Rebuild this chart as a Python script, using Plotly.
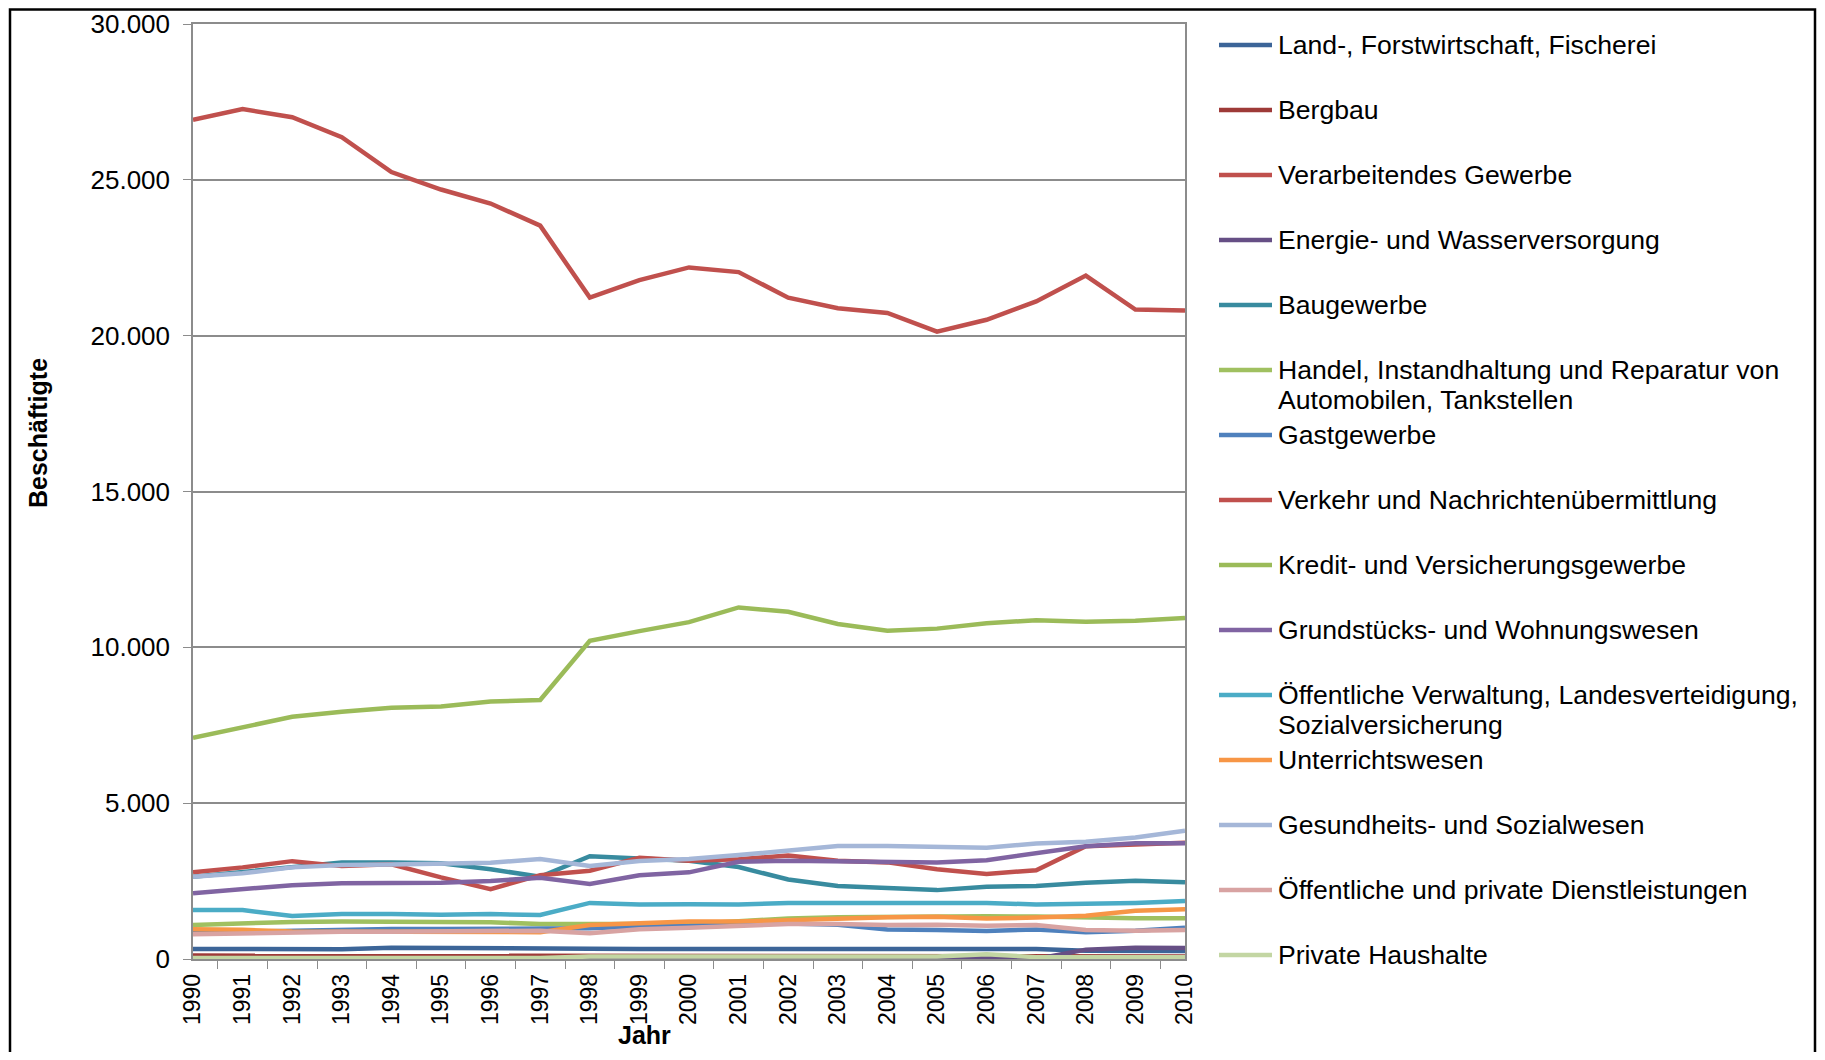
import plotly.graph_objects as go

# Beschäftigte nach Wirtschaftszweigen, 1990-2010
years = [str(y) for y in range(1990, 2011)]

land_forst = [320, 320, 315, 315, 360, 360, 340, 340, 330, 320, 320, 340, 310, 310, 310, 310, 310, 320, 265, 255, 255]
bergbau = [110, 110, 105, 105, 100, 100, 100, 100, 95, 95, 95, 95, 90, 90, 90, 90, 90, 90, 85, 80, 80]
verarbeitend = [26930, 27270, 27010, 26370, 25250, 24690, 24240, 23530, 21220, 21780, 22190,
                22040, 21220, 20880, 20730, 20130, 20510, 21100, 21930, 20840, 20810]
energie = [20, 20, 20, 20, 20, 20, 20, 20, 0, 0, 0, 0, 0, 0, 0, 0, 40, 0, 300, 360, 350]
baugewerbe = [2640, 2800, 2950, 3100, 3100, 3070, 2880, 2640, 3300, 3230, 3150,
              2950, 2550, 2340, 2270, 2210, 2320, 2340, 2450, 2510, 2460]
handel = [1090, 1140, 1190, 1200, 1200, 1180, 1180, 1120, 1110, 1120, 1120,
          1210, 1300, 1336, 1358, 1379, 1370, 1360, 1326, 1304, 1304]
gastgewerbe = [845, 877, 930, 960, 960, 965, 965, 980, 985, 1040, 1060,
               1144, 1140, 1100, 950, 930, 900, 950, 860, 910, 1000]
verkehr = [2780, 2940, 3140, 2980, 3040, 2620, 2240, 2690, 2830, 3250, 3150,
           3200, 3320, 3150, 3100, 2880, 2730, 2850, 3620, 3680, 3730]
kredit = [7100, 7450, 7770, 7930, 8060, 8100, 8260, 8310, 10210, 10520, 10810,
          11280, 11140, 10750, 10530, 10600, 10770, 10870, 10820, 10850, 10940]
grundstuecke = [2110, 2230, 2370, 2430, 2430, 2450, 2500, 2610, 2410, 2690, 2780,
                3120, 3150, 3140, 3100, 3100, 3170, 3390, 3620, 3710, 3710]
oeff_verwaltung = [1570, 1570, 1380, 1440, 1440, 1420, 1440, 1410, 1800, 1750, 1760,
                   1750, 1800, 1807, 1817, 1807, 1800, 1750, 1770, 1800, 1860]
unterricht = [955, 940, 880, 880, 880, 880, 880, 860, 1090, 1145, 1200,
              1200, 1250, 1290, 1340, 1358, 1300, 1330, 1390, 1545, 1593]
gesundheit = [2640, 2750, 2940, 3015, 3036, 3068, 3090, 3207, 2983, 3143, 3207,
              3335, 3474, 3624, 3624, 3603, 3570, 3709, 3763, 3902, 4116]
oeff_privat = [791, 823, 877, 877, 877, 877, 877, 909, 823, 951, 1005,
               1060, 1122, 1122, 1090, 1100, 1070, 1090, 930, 909, 930]
haushalte = [30, 30, 30, 30, 30, 30, 30, 30, 80, 80, 80, 80, 80, 80, 80, 80, 150, 60, 60, 60, 60]

series = [
    ("Land-, Forstwirtschaft, Fischerei", land_forst, "#3C6598"),
    ("Bergbau", bergbau, "#9E3A38"),
    ("Verarbeitendes Gewerbe", verarbeitend, "#C0504D"),
    ("Energie- und Wasserversorgung", energie, "#664F85"),
    ("Baugewerbe", baugewerbe, "#388B9F"),
    ("Handel, Instandhaltung und Reparatur von\nAutomobilen, Tankstellen", handel, "#A0C060"),
    ("Gastgewerbe", gastgewerbe, "#4F81BD"),
    ("Verkehr und Nachrichtenübermittlung", verkehr, "#C0504D"),
    ("Kredit- und Versicherungsgewerbe", kredit, "#9BBB59"),
    ("Grundstücks- und Wohnungswesen", grundstuecke, "#8064A2"),
    ("Öffentliche Verwaltung, Landesverteidigung,\nSozialversicherung", oeff_verwaltung, "#4BACC6"),
    ("Unterrichtswesen", unterricht, "#F79646"),
    ("Gesundheits- und Sozialwesen", gesundheit, "#A5B7D8"),
    ("Öffentliche und private Dienstleistungen", oeff_privat, "#D8A3A2"),
    ("Private Haushalte", haushalte, "#C3D6A3"),
]

# page body adds an 8px margin around the figure; keep the page from overflowing
OFF = 8
W, H = 1825 - 2 * OFF, 1060 - 2 * OFF
L, T = 193 - OFF, 24 - OFF
R, B = W - (1185 - OFF), H - (959 - OFF)
plot_w, plot_h = W - L - R, H - T - B


def px_x(px):
    # screen pixel -> paper coordinate
    return (px - OFF - L) / plot_w


def px_y(py):
    return (H - B - (py - OFF)) / plot_h


fig = go.Figure()

for name, values, color in series:
    fig.add_trace(
        go.Scatter(
            x=years,
            y=values,
            mode="lines",
            name=name.replace("\n", " "),
            line=dict(color=color, width=4.5),
            showlegend=False,
        )
    )

font = "Liberation Sans, Arial, sans-serif"
shapes = []
annotations = []

# Legend built by hand so items keep the even spacing of the original
for i, (name, values, color) in enumerate(series):
    yc = 45 + 65.0 * i
    shapes.append(
        dict(type="line", xref="paper", yref="paper",
             x0=px_x(1219), x1=px_x(1272), y0=px_y(yc), y1=px_y(yc),
             line=dict(color=color, width=4.5))
    )
    for k, part in enumerate(name.split("\n")):
        annotations.append(
            dict(text=part, xref="paper", yref="paper", x=px_x(1276), y=px_y(yc + 30 * k),
                 xanchor="left", yanchor="middle", showarrow=False,
                 font=dict(size=26.6, color="black", family=font))
        )

# Axis titles
annotations.append(
    dict(text="<b>Beschäftigte</b>", xref="paper", yref="paper", x=px_x(38), y=px_y(433),
         textangle=-90, showarrow=False, xanchor="center", yanchor="middle",
         font=dict(size=25, color="black", family=font))
)
annotations.append(
    dict(text="<b>Jahr</b>", xref="paper", yref="paper", x=px_x(644), y=px_y(1035),
         showarrow=False, xanchor="center", yanchor="middle",
         font=dict(size=25, color="black", family=font))
)

# Outer frame of the chart (kept just inside the figure edges)
shapes.append(
    dict(type="rect", xref="paper", yref="paper",
         x0=px_x(10), x1=px_x(1815), y0=px_y(9.5), y1=px_y(1090),
         line=dict(color="black", width=2.5), fillcolor="rgba(0,0,0,0)")
)

fig.update_layout(
    width=W,
    height=H,
    margin=dict(l=L, r=R, t=T, b=B, autoexpand=False),
    paper_bgcolor="white",
    plot_bgcolor="white",
    separators=",.",
    font=dict(family=font, size=26, color="black"),
    showlegend=False,
    xaxis=dict(
        type="category",
        automargin=False,
        tickangle=-90,
        tickson="boundaries",
        ticks="outside",
        ticklen=8,
        tickcolor="#8C8C8C",
        showline=True,
        linecolor="#8C8C8C",
        linewidth=1.5,
        mirror=True,
        showgrid=False,
        ticklabelstandoff=4,
        tickfont=dict(size=23, color="black"),
    ),
    yaxis=dict(
        range=[0, 30000],
        dtick=5000,
        tickformat=",",
        automargin=False,
        ticks="outside",
        ticklen=8,
        tickcolor="#8C8C8C",
        showline=True,
        linecolor="#8C8C8C",
        linewidth=1.5,
        mirror=True,
        showgrid=True,
        gridcolor="#8C8C8C",
        gridwidth=1.5,
        zeroline=False,
        ticklabelstandoff=8,
        tickfont=dict(size=26, color="black"),
    ),
    shapes=shapes,
    annotations=annotations,
)

fig.write_html("out.html")
